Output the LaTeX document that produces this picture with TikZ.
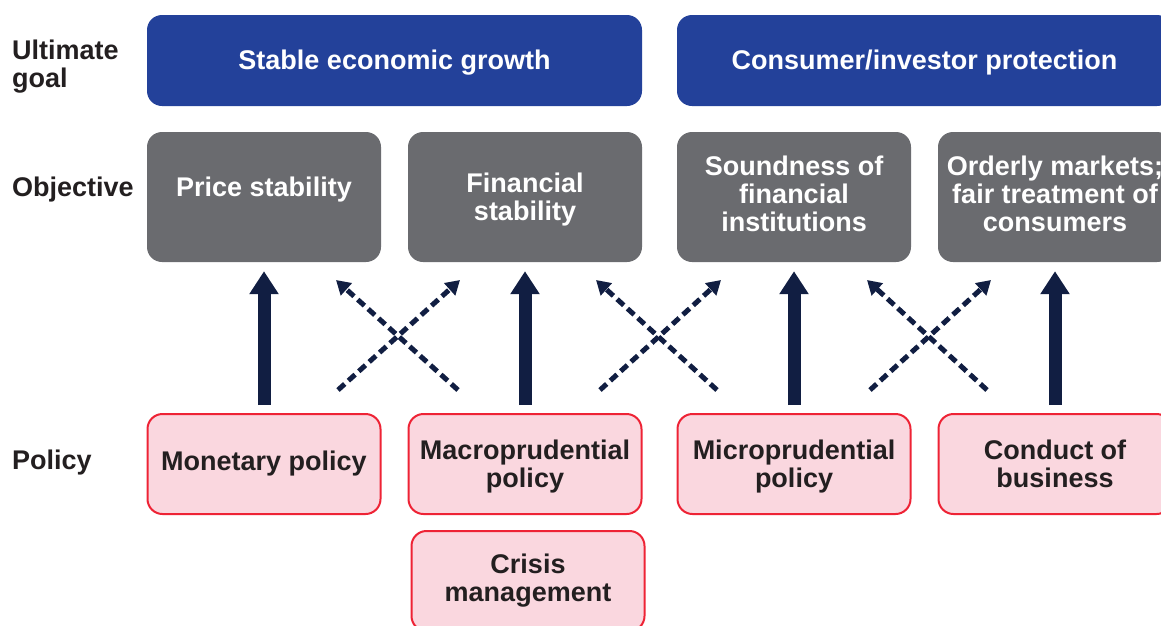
\documentclass[tikz,border=0pt]{standalone}
\usepackage{fontspec}
\setmainfont{Liberation Sans}
\usetikzlibrary{arrows.meta,positioning}
\definecolor{goalblue}{HTML}{23419A}
\definecolor{objgrey}{HTML}{6A6B6F}
\definecolor{polpink}{HTML}{FAD7DF}
\definecolor{polred}{HTML}{EE2335}
\definecolor{navy}{HTML}{111E42}
\definecolor{txtdark}{HTML}{231F20}
\begin{document}
\begin{tikzpicture}[x=1pt,y=-1pt,font=\bfseries\fontsize{27}{28}\selectfont]
\tikzstyle{goal}=[fill=goalblue,text=white,rounded corners=15pt,minimum width=495pt,minimum height=91pt,inner sep=0pt,text depth=1.5pt]
\tikzstyle{objective}=[fill=objgrey,text=white,rounded corners=15pt,minimum width=234pt,minimum height=130pt,align=center,inner sep=0pt]
\tikzstyle{policy}=[draw=polred,fill=polpink,text=txtdark,line width=2pt,rounded corners=15pt,minimum width=233pt,minimum height=100pt,align=center,inner sep=0pt]
\tikzstyle{rowlabel}=[anchor=west,align=left,text=txtdark,inner sep=0pt]
\tikzstyle{direct}=[draw=navy,line width=13pt,-{Triangle[length=23pt,width=28pt]},shorten <=8pt,shorten >=9pt]
\tikzstyle{indirect}=[draw=navy,line width=5pt,dash pattern=on 9pt off 5pt,-{Triangle[length=14pt,width=16pt]}]
\useasboundingbox (0,0) rectangle (1161,625);
\clip (0,0) rectangle (1161,625);

% row labels
\node[rowlabel] (lgoal) at (12,67) {Ultimate\\goal};
\node[rowlabel] (lobj) at (12,190) {Objective};
\node[rowlabel] (lpol) at (12,463) {Policy};

% ultimate goals
\node[goal] (growth) at (394.5,60.5) {Stable economic growth};
\node[goal] (protect) at (924.5,60.5) {Consumer/investor protection};

% objectives
\node[objective,text height=19pt,text depth=20pt] (price) at (264,197) {Price stability};
\node[objective,text depth=0pt] (finstab) at (525,197) {Financial\\stability};
\node[objective,text depth=7pt] (sound) at (794,197) {Soundness of\\financial\\institutions};
\node[objective,text depth=7pt] (orderly) at (1055,197) {Orderly markets;\\fair treatment of\\consumers};

% policies
\node[policy,below of=price,node distance=267pt] (monetary) {Monetary policy};
\node[policy,below of=finstab,node distance=267pt,text depth=0pt] (macro) {Macroprudential\\policy};
\node[policy,below of=sound,node distance=267pt,text depth=0pt] (micro) {Microprudential\\policy};
\node[policy,below of=orderly,node distance=267pt] (conduct) {Conduct of\\business};
\node[policy,below of=macro,node distance=117pt,xshift=3pt] (crisis) {Crisis\\management};

% main links
\foreach \a/\b in {monetary/price,macro/finstab,micro/sound,conduct/orderly}
  \draw[direct] (\a.north) -- (\b.south);

% cross links
\foreach \i/\ll/\lr/\ul/\ur in {1/338/458/336/460,2/600/717/596/721,3/870/987/867/991}{
  \coordinate (lowl\i) at (\ll,390);
  \coordinate (lowr\i) at (\lr,390);
  \coordinate (upl\i) at (\ul,280);
  \coordinate (upr\i) at (\ur,280);
  \draw[indirect] (lowl\i) -- (upr\i);
  \draw[indirect] (lowr\i) -- (upl\i);
}
\end{tikzpicture}
\end{document}
